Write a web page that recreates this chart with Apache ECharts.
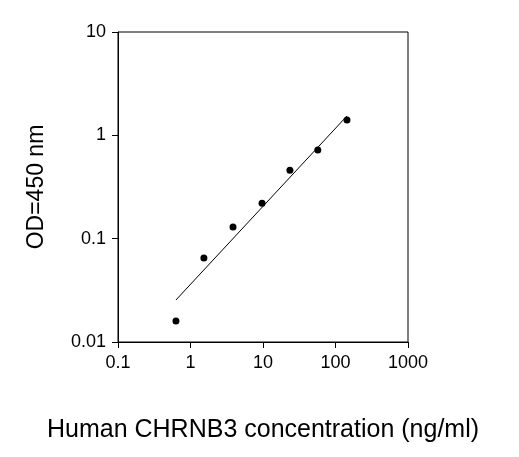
<!DOCTYPE html><html><head><meta charset="utf-8">
<script src="https://cdn.jsdelivr.net/npm/echarts@6/dist/echarts.min.js"></script>
<style>html,body{margin:0;background:#fff}#c{width:519px;height:457px}</style></head><body><div id="c"></div>
<script>
const concX=[0.63,1.53,3.86,9.7,23.5,57,144];
const odY=[0.016,0.065,0.13,0.22,0.46,0.72,1.41];
const fitX=[0.63,144];
const fitY=[0.0255,1.54];
const xTitle='Human CHRNB3 concentration (ng/ml)';
const yTitle='OD=450 nm';
const f='Liberation Sans, Arial, sans-serif';
const ch=echarts.init(document.getElementById('c'));
const lab=v=>String(+v.toPrecision(3));
ch.setOption({animation:false,
grid:{left:118,right:111,top:32,bottom:115,show:true,borderColor:'#000',borderWidth:1},
xAxis:{type:'log',min:0.1,max:1000,logBase:10,name:xTitle,nameLocation:'middle',nameGap:76,
nameTextStyle:{fontFamily:f,fontSize:25,color:'#000'},
axisLine:{lineStyle:{color:'#000'}},axisTick:{inside:false,length:6,lineStyle:{color:'#000'}},
axisLabel:{fontFamily:f,fontSize:18,color:'#000',margin:12,formatter:lab},splitLine:{show:false},minorTick:{show:false}},
yAxis:{type:'log',min:0.01,max:10,logBase:10,name:yTitle,nameLocation:'middle',nameGap:70,
nameTextStyle:{fontFamily:f,fontSize:23,color:'#000'},
axisLine:{lineStyle:{color:'#000'}},axisTick:{length:6,lineStyle:{color:'#000'}},
axisLabel:{fontFamily:f,fontSize:18,color:'#000',margin:12,formatter:lab},splitLine:{show:false}},
series:[
{type:'line',data:fitX.map((x,i)=>[x,fitY[i]]),symbol:'none',lineStyle:{color:'#000',width:1}},
{type:'scatter',data:concX.map((x,i)=>[x,odY[i]]),symbolSize:7,itemStyle:{color:'#000',opacity:1}}
]});
</script></body></html>
